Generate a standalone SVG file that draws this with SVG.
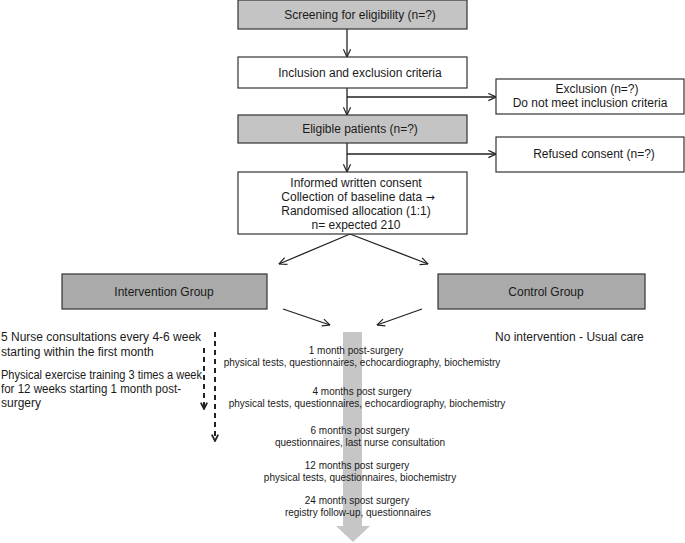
<svg xmlns="http://www.w3.org/2000/svg" width="685" height="543" viewBox="0 0 685 543">
<defs>
<style>
text{font-family:"Liberation Sans",Arial,sans-serif;fill:#1a1a1a}
.t12{font-size:12px}
.t10{font-size:10px}
.mid{text-anchor:middle}
.arr{font-family:"DejaVu Sans",sans-serif;font-size:11px}
.box{fill:#ffffff;stroke:#333;stroke-width:1.2}
.gbox{fill:#c4c4c4;stroke:#333;stroke-width:1.2}
.dbox{fill:#aaaaaa;stroke:#333;stroke-width:1.2}
.ln{fill:none;stroke:#222;stroke-width:1.3}
.dash{fill:none;stroke:#222;stroke-width:2;stroke-dasharray:5 4}
</style>
<marker id="ah" viewBox="0 0 10 10" refX="9.5" refY="5" markerWidth="9" markerHeight="9" markerUnits="userSpaceOnUse" orient="auto">
<path d="M1,1 L9.5,5 L1,9" fill="none" stroke="#222" stroke-width="1.3"/>
</marker>
<marker id="ahd" viewBox="0 0 10 10" refX="9" refY="5" markerWidth="8" markerHeight="8" markerUnits="userSpaceOnUse" orient="auto">
<path d="M1,1 L9,5 L1,9" fill="none" stroke="#222" stroke-width="2.2"/>
</marker>
</defs>
<rect width="685" height="543" fill="#ffffff"/>

<g id="timeline-arrow">
<rect x="343" y="332" width="19" height="194" fill="#c6c6c6"/>
<polygon points="336,526 370,526 353,542" fill="#c6c6c6"/>
</g>

<g id="connectors">
<line class="ln" x1="347" y1="29" x2="347" y2="57" marker-end="url(#ah)"/>
<line class="ln" x1="347" y1="88" x2="347" y2="115" marker-end="url(#ah)"/>
<line class="ln" x1="347" y1="97" x2="496" y2="97" marker-end="url(#ah)"/>
<line class="ln" x1="347" y1="143" x2="347" y2="172" marker-end="url(#ah)"/>
<line class="ln" x1="347" y1="154" x2="496" y2="154" marker-end="url(#ah)"/>
<line class="ln" x1="350" y1="234" x2="279" y2="264" marker-end="url(#ah)"/>
<line class="ln" x1="350" y1="234" x2="428" y2="264" marker-end="url(#ah)"/>
<line class="ln" x1="283" y1="309" x2="330" y2="325" marker-end="url(#ah)"/>
<line class="ln" x1="422" y1="309" x2="377" y2="325" marker-end="url(#ah)"/>
<line class="dash" x1="204" y1="348" x2="204" y2="409" marker-end="url(#ahd)"/>
<line class="dash" x1="215" y1="332" x2="215" y2="441" marker-end="url(#ahd)"/>
</g>

<g id="screening">
<rect class="gbox" x="238" y="0" width="229" height="29"/>
<text class="t12 mid" x="360" y="19">Screening for eligibility (n=?)</text>
</g>
<g id="inclusion">
<rect class="box" x="238" y="57" width="229" height="31"/>
<text class="t12 mid" x="360" y="77">Inclusion and exclusion criteria</text>
</g>
<g id="exclusion">
<rect class="box" x="496" y="79" width="188" height="35"/>
<text class="t12 mid" x="597" y="93">Exclusion (n=?)</text>
<text class="t12 mid" x="590" y="107">Do not meet inclusion criteria</text>
</g>
<g id="eligible">
<rect class="gbox" x="238" y="115" width="229" height="28"/>
<text class="t12 mid" x="360" y="133">Eligible patients (n=?)</text>
</g>
<g id="refused">
<rect class="box" x="496" y="137" width="188" height="35"/>
<text class="t12 mid" x="594" y="158">Refused consent (n=?)</text>
</g>
<g id="consent">
<rect class="box" x="238" y="172" width="229" height="62"/>
<text class="t12 mid" x="356" y="187">Informed written consent</text>
<text class="t12 mid" x="358" y="201">Collection of baseline data <tspan class="arr">→</tspan></text>
<text class="t12 mid" x="356" y="215">Randomised allocation (1:1)</text>
<text class="t12 mid" x="356" y="229">n= expected 210</text>
</g>
<g id="intervention">
<rect class="dbox" x="62" y="274" width="205" height="35"/>
<text class="t12 mid" x="164" y="296">Intervention Group</text>
</g>
<g id="control">
<rect class="dbox" x="438" y="274" width="207" height="35"/>
<text class="t12 mid" x="546" y="296">Control Group</text>
</g>
<g id="intervention-text">
<text class="t12" x="1" y="341">5 Nurse consultations every 4-6 week</text>
<text class="t12" x="1" y="356">starting within the first month</text>
<text class="t12" x="1" y="379" textLength="201" lengthAdjust="spacingAndGlyphs">Physical exercise training 3 times a week</text>
<text class="t12" x="1" y="393" textLength="180" lengthAdjust="spacingAndGlyphs">for 12 weeks starting 1 month post-</text>
<text class="t12" x="1" y="407">surgery</text>
</g>
<g id="control-text">
<text class="t12" x="495" y="341">No intervention - Usual care</text>
</g>
<g id="timeline">
<text class="t10 mid" x="356" y="354">1 month post-surgery</text>
<text class="t10 mid" x="362" y="366">physical tests, questionnaires, echocardiography, biochemistry</text>
<text class="t10 mid" x="362" y="395">4 months post surgery</text>
<text class="t10 mid" x="367" y="407">physical tests, questionnaires, echocardiography, biochemistry</text>
<text class="t10 mid" x="360" y="434">6 months post surgery</text>
<text class="t10 mid" x="360" y="446">questionnaires, last nurse consultation</text>
<text class="t10 mid" x="357" y="469">12 months post surgery</text>
<text class="t10 mid" x="360" y="481">physical tests, questionnaires, biochemistry</text>
<text class="t10 mid" x="357" y="504">24 month spost surgery</text>
<text class="t10 mid" x="358" y="516">registry follow-up, questionnaires</text>
</g>
</svg>
